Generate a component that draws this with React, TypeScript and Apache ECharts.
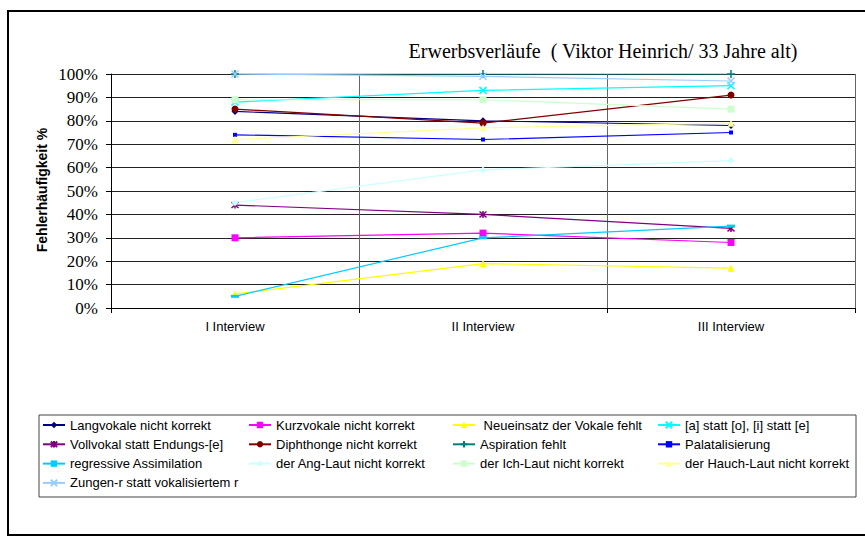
import React, { useEffect, useRef } from "react";
import * as echarts from "echarts";

const categories = ["I Interview", "II Interview", "III Interview"];

const langvokale = [84, 80, 78];
const kurzvokale = [30, 32, 28];
const neueinsatz = [6, 19, 17];
const aStattO = [88, 93, 95];
const vollvokal = [44, 40, 34];
const diphthonge = [85, 79, 91];
const aspiration = [100, 100, 100];
const palatalisierung = [74, 72, 75];
const regressiv = [5, 30, 35];
const angLaut = [45, 59, 63];
const ichLaut = [89, 89, 85];
const hauchLaut = [72, 77, 79];
const zungenR = [100, 99, 97];

const X_PATH = "path://M0,0L10,10M10,0L0,10";
const STAR_PATH = "path://M0,0L10,10M10,0L0,10M5,-1L5,11";
const PLUS_PATH = "path://M5,0L5,10M0,5L10,5";
const DASH_PATH = "path://M0,0L10,0L10,3L0,3Z";

type S = { name: string; data: number[]; color: string; symbol: string; size: number | number[]; stroke?: boolean };

const seriesDefs: S[] = [
  { name: "Langvokale nicht korrekt", data: langvokale, color: "#000080", symbol: "diamond", size: 7 },
  { name: "Kurzvokale nicht korrekt", data: kurzvokale, color: "#FF00FF", symbol: "rect", size: 7 },
  { name: " Neueinsatz der Vokale fehlt", data: neueinsatz, color: "#FFFF00", symbol: "triangle", size: 7 },
  { name: "[a] statt [o], [i] statt [e]", data: aStattO, color: "#00FFFF", symbol: X_PATH, size: 7, stroke: true },
  { name: "Vollvokal statt Endungs-[e]", data: vollvokal, color: "#800080", symbol: STAR_PATH, size: 7, stroke: true },
  { name: "Diphthonge nicht korrekt", data: diphthonge, color: "#800000", symbol: "circle", size: 7 },
  { name: "Aspiration fehlt", data: aspiration, color: "#008080", symbol: PLUS_PATH, size: 8, stroke: true },
  { name: "Palatalisierung", data: palatalisierung, color: "#0000FF", symbol: "rect", size: 4 },
  { name: "regressive Assimilation", data: regressiv, color: "#00CCFF", symbol: DASH_PATH, size: [8, 3] },
  { name: "der Ang-Laut nicht korrekt", data: angLaut, color: "#CCFFFF", symbol: "diamond", size: 7 },
  { name: "der Ich-Laut nicht korrekt", data: ichLaut, color: "#CCFFCC", symbol: "rect", size: 7 },
  { name: "der Hauch-Laut nicht korrekt", data: hauchLaut, color: "#FFFF99", symbol: "triangle", size: 7 },
  { name: "Zungen-r statt vokalisiertem r", data: zungenR, color: "#99CCFF", symbol: X_PATH, size: 7, stroke: true },
];

const legendCols = [
  [0, 4, 8, 12],
  [1, 5, 9],
  [2, 6, 10],
  [3, 7, 11],
];
const legendLeft = [42, 248, 452, 657];

export default function App() {
  const ref = useRef<HTMLDivElement>(null);
  useEffect(() => {
    if (!ref.current) return;
    const chart = echarts.init(ref.current, undefined, { renderer: "svg" });
    const option: any = {
      animation: false,
      backgroundColor: "#ffffff",
      title: {
        text: "Erwerbsverläufe  ( Viktor Heinrich/ 33 Jahre alt)",
        left: 598,
        top: 36,
        textAlign: "center",
        textStyle: { fontFamily: "Liberation Serif", fontSize: 20, fontWeight: "normal", color: "#000" },
      },
      grid: { left: 111, top: 74, right: 10, bottom: 234, containLabel: false },
      xAxis: {
        type: "category",
        data: categories,
        boundaryGap: true,
        axisLine: { lineStyle: { color: "#000", width: 1 } },
        axisTick: { show: true, length: 5, lineStyle: { color: "#000" } },
        axisLabel: { fontFamily: "Liberation Sans", fontSize: 13, color: "#000", margin: 12 },
        splitLine: { show: true, lineStyle: { color: "#666", width: 1 } },
      },
      yAxis: {
        type: "value",
        min: 0,
        max: 100,
        interval: 10,
        axisLine: { show: true, lineStyle: { color: "#000", width: 1 } },
        axisTick: { show: true, length: 5, lineStyle: { color: "#000" } },
        axisLabel: { formatter: "{value}%", fontFamily: "Liberation Serif", fontSize: 17, color: "#000", margin: 13 },
        splitLine: { show: true, lineStyle: { color: "#222", width: 1 } },
      },
      legend: legendCols.map((col, i) => ({
        data: col.map((k) => seriesDefs[k].name),
        orient: "vertical",
        left: legendLeft[i],
        top: 418,
        itemWidth: 22,
        itemHeight: 8,
        itemGap: 5.3,
        selectedMode: false,
        textStyle: { fontFamily: "Liberation Sans", fontSize: 13, lineHeight: 14, color: "#000" },
        padding: 0,
      })),
      graphic: [
        {
          type: "rect",
          shape: { x: 8, y: 11, width: 900, height: 524 },
          style: { fill: "none", stroke: "#000", lineWidth: 2 },
          silent: true,
          z: 100,
        },
        {
          type: "rect",
          shape: { x: 39, y: 415, width: 817, height: 82 },
          style: { fill: "none", stroke: "#444", lineWidth: 1 },
          silent: true,
          z: 100,
        },
        {
          type: "text",
          x: 42,
          y: 190,
          rotation: Math.PI / 2,
          style: {
            text: "Fehlerhäufigkeit %",
            fontFamily: "Liberation Sans",
            fontWeight: "bold",
            fontSize: 14,
            fill: "#000",
            align: "center",
            verticalAlign: "middle",
          },
          z: 100,
        },
      ],
      series: seriesDefs.map((s) => ({
        name: s.name,
        type: "line",
        data: s.data,
        symbol: s.symbol,
        symbolSize: s.size,
        showSymbol: true,
        lineStyle: { color: s.color, width: 1.2 },
        itemStyle: s.stroke
          ? { color: s.color, borderColor: s.color, borderWidth: 1.5 }
          : { color: s.color, borderWidth: 0 },
        emphasis: { disabled: true },
      })),
    };
    chart.setOption(option);
    return () => chart.dispose();
  }, []);
  return <div ref={ref} style={{ position: "fixed", left: 0, top: 0, width: 865, height: 542 }} />;
}
